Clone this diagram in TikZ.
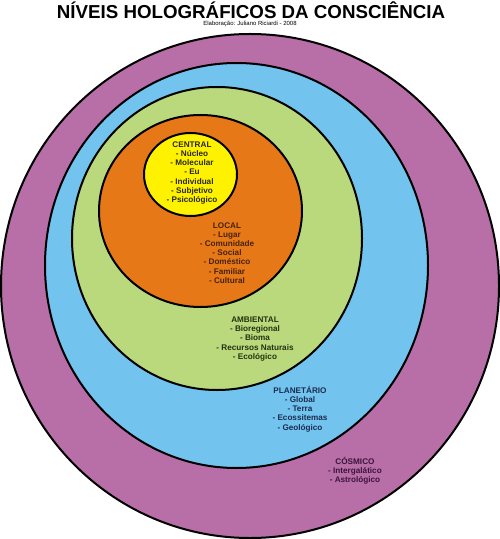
\documentclass[tikz,border=0pt]{standalone}
\usepackage{fontspec}
\setmainfont{Liberation Sans}
\usepackage{tikz}

\definecolor{cosmico}{HTML}{B86EA6}
\definecolor{planeta}{HTML}{72C4EF}
\definecolor{ambiente}{HTML}{B9D97C}
\definecolor{localc}{HTML}{E77817}
\definecolor{centralc}{HTML}{FFF200}

\begin{document}
\begin{tikzpicture}[x=1bp, y=-1bp,
  ring/.style={draw=black, line width=2bp},
  lvl/.style={align=center, font=\fontsize{8.2}{9.2}\selectfont\bfseries, inner sep=0pt}]

\useasboundingbox (0,0) rectangle (500,539);
\fill[white] (0,0) rectangle (500,539);

% titulo
\node[font=\fontsize{18.8}{21}\selectfont\bfseries] (titulo) at (251,10) {NÍVEIS HOLOGRÁFICOS DA CONSCIÊNCIA};
\node[font=\fontsize{6}{7}\selectfont] (autor) at (250,24) {Elaboração: Juliano Riciardi - 2008};

% circulos
\draw[ring, fill=cosmico] (250,286) ellipse [x radius=249, y radius=252];
\draw[ring, fill=planeta] (236.5,265.5) ellipse [x radius=191.5, y radius=202.5];
\draw[ring, fill=ambiente] (217,238.5) ellipse [x radius=145, y radius=151.5];
\draw[ring, fill=localc] (200.5,211) ellipse [x radius=101.5, y radius=96];
\draw[ring, fill=centralc] (190.5,174.5) ellipse [x radius=46.5, y radius=41.5];

% textos
\node[lvl, text={rgb,255:red,40;green,40;blue,10}] (central) at (192,173) {CENTRAL\\- Núcleo\\- Molecular\\- Eu\\- Individual\\- Subjetivo\\- Psicológico};
\node[lvl, text={rgb,255:red,70;green,35;blue,10}] (local) at (227,253) {LOCAL\\- Lugar\\- Comunidade\\- Social\\- Doméstico\\- Familiar\\- Cultural};
\node[lvl, text={rgb,255:red,35;green,50;blue,15}] (ambiental) at (255,339) {AMBIENTAL\\- Bioregional\\- Bioma\\- Recursos Naturais\\- Ecológico};
\node[lvl, text={rgb,255:red,25;green,45;blue,80}] (planetario) at (300,409) {PLANETÁRIO\\- Global\\- Terra\\- Ecossitemas\\- Geológico};
\node[lvl, text={rgb,255:red,60;green,20;blue,60}] (cosmico) at (355,471) {CÓSMICO\\- Intergalático\\- Astrológico};

\end{tikzpicture}
\end{document}
